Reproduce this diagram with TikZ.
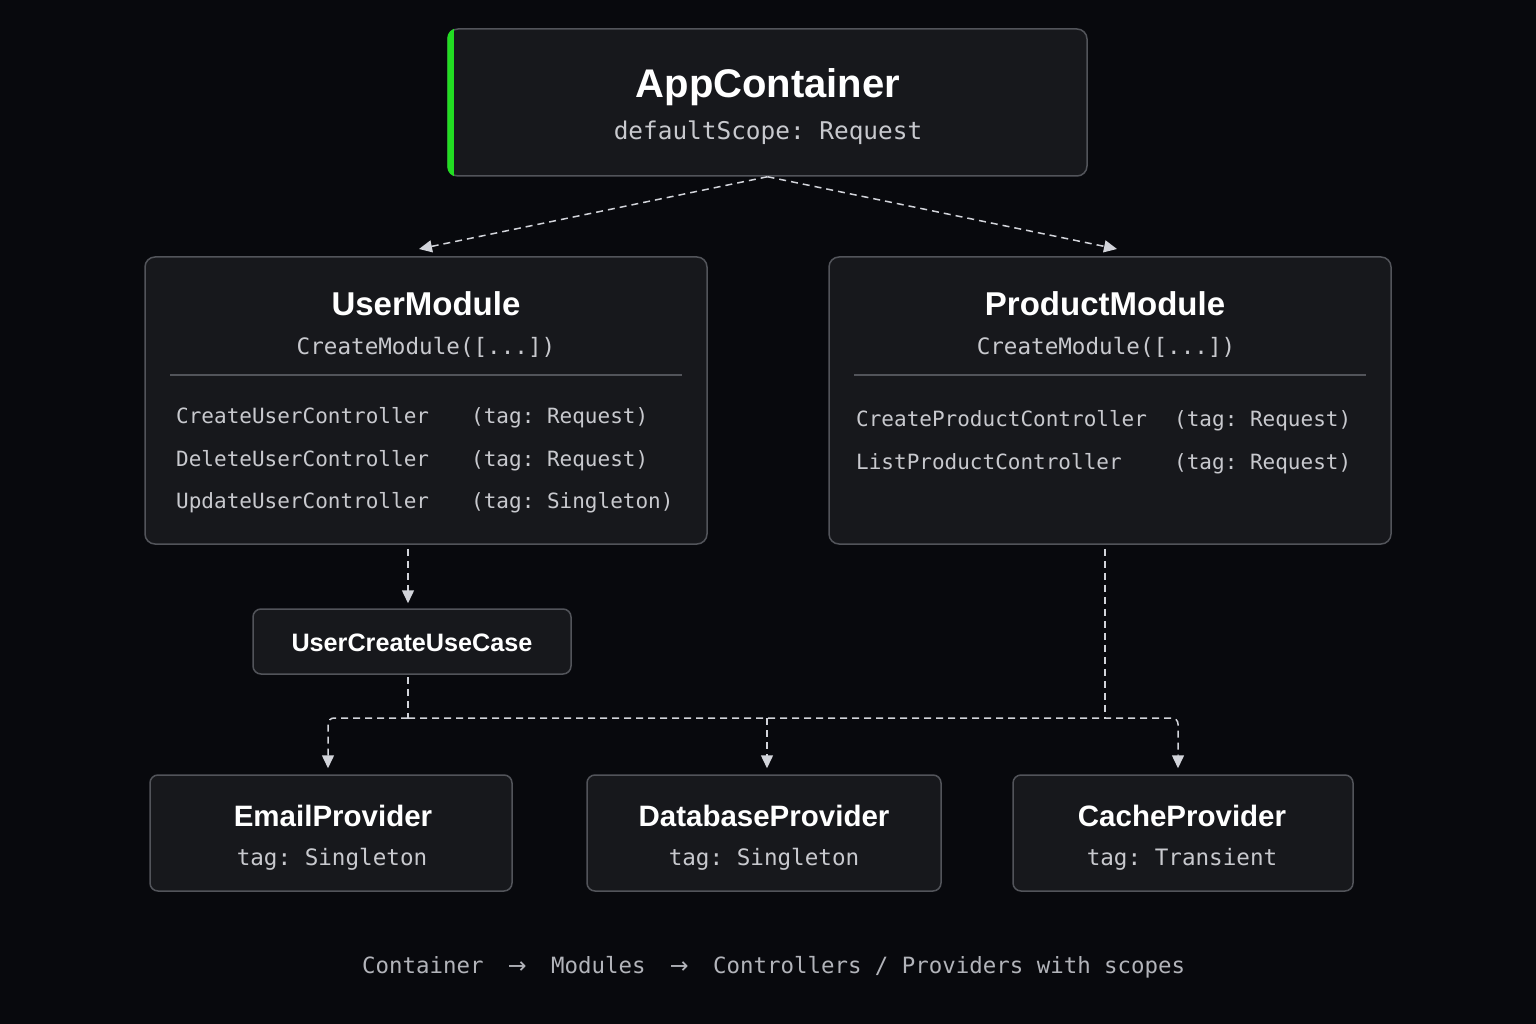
\documentclass[tikz,border=0pt]{standalone}
\usepackage{fontspec}
\setsansfont{Liberation Sans}
\setmonofont{DejaVu Sans Mono}
\newfontfamily\arrowfont{DejaVu Sans}
\usetikzlibrary{arrows.meta}
\definecolor{bgdark}{RGB}{8, 9, 13}
\definecolor{boxfill}{RGB}{23, 24, 28}
\definecolor{boxline}{RGB}{82, 84, 90}
\definecolor{subgray}{RGB}{200, 201, 206}
\definecolor{footgray}{RGB}{178, 180, 186}
\definecolor{linkgray}{RGB}{210, 212, 218}
\definecolor{accentgreen}{RGB}{34, 221, 34}

\begin{document}
\begin{tikzpicture}[x=1pt, y=-1pt,
        every node/.style={inner sep=0pt},
        box/.style={draw=boxline, fill=boxfill, line width=1.5pt, rounded corners=10pt},
        bigtitle/.style={anchor=base, text=white, font=\sffamily\bfseries\fontsize{40}{44}\selectfont},
        modtitle/.style={anchor=base, text=white, font=\sffamily\bfseries\fontsize{33}{36}\selectfont},
        provtitle/.style={anchor=base, text=white, font=\sffamily\bfseries\fontsize{29.5}{32}\selectfont},
        casetitle/.style={anchor=base, text=white, font=\sffamily\bfseries\fontsize{25.2}{28}\selectfont},
        monosub/.style={anchor=base, text=subgray, font=\ttfamily\fontsize{22.6}{26}\selectfont},
        rowtext/.style={anchor=base west, text=subgray, font=\ttfamily\fontsize{21}{24}\selectfont},
        sepline/.style={draw=boxline, line width=1.5pt},
        dep/.style={draw=linkgray, line width=1.5pt, dash pattern=on 7pt off 5pt},
        deparrow/.style={dep, -{Triangle[length=13pt, width=12pt, fill=linkgray]}}
      ]
        \fill[bgdark] (0,0) rectangle (1536,1024);
        \useasboundingbox (0,0) rectangle (1536,1024);

        \node[box, minimum width=639pt, minimum height=147pt] (app) at (767.5,102.5) {};
        \begin{scope}
          \clip[rounded corners=10pt] (app.north west) rectangle (app.south east);
          \fill[accentgreen] (app.north west) rectangle ([xshift=7pt]app.south west);
        \end{scope}
        \node[bigtitle] (apptitle) at (768,98) {AppContainer};
        \node[monosub, font=\ttfamily\fontsize{24.4}{28}\selectfont] (appscope) at (768,140) {defaultScope: Request};

        \node[box, minimum width=562pt, minimum height=287pt] (user) at (426,400.5) {};
        \node[modtitle] (usertitle) at (426,315) {UserModule};
        \node[monosub] (usersub) at (426,354) {CreateModule([...])};
        \draw[sepline] ([xshift=26pt]user.west |- 0,375) -- ([xshift=-26pt]user.east |- 0,375);
        \node[rowtext] (ucreate) at (176,423) {CreateUserController};
        \node[rowtext] (ucreatetag) at (471,423) {(tag: Request)};
        \node[rowtext] (udelete) at (176,466) {DeleteUserController};
        \node[rowtext] (udeletetag) at (471,466) {(tag: Request)};
        \node[rowtext] (uupdate) at (176,508.5) {UpdateUserController};
        \node[rowtext] (uupdatetag) at (471,508.5) {(tag: Singleton)};

        \node[box, minimum width=562pt, minimum height=287pt] (prod) at (1110,400.5) {};
        \node[modtitle] (prodtitle) at (1105,315) {ProductModule};
        \node[monosub] (prodsub) at (1106,354) {CreateModule([...])};
        \draw[sepline] ([xshift=26pt]prod.west |- 0,375) -- ([xshift=-26pt]prod.east |- 0,375);
        \node[rowtext] (pcreate) at (856,426) {CreateProductController};
        \node[rowtext] (pcreatetag) at (1174,426) {(tag: Request)};
        \node[rowtext] (plist) at (856,469) {ListProductController};
        \node[rowtext] (plisttag) at (1174,469) {(tag: Request)};

        \node[box, rounded corners=8pt, minimum width=318pt, minimum height=65pt] (ucase) at (412,641.5) {};
        \node[casetitle] (ucasetitle) at (412,651) {UserCreateUseCase};

        \node[box, rounded corners=8pt, minimum width=362pt, minimum height=116pt] (email) at (331,833) {};
        \node[provtitle] (emailtitle) at (333,826) {EmailProvider};
        \node[monosub] (emailtag) at (332,865) {tag: Singleton};
        \node[box, rounded corners=8pt, minimum width=354pt, minimum height=116pt] (dbase) at (764,833) {};
        \node[provtitle] (dbasetitle) at (764,826) {DatabaseProvider};
        \node[monosub] (dbasetag) at (764,865) {tag: Singleton};
        \node[box, rounded corners=8pt, minimum width=340pt, minimum height=116pt] (cache) at (1183,833) {};
        \node[provtitle] (cachetitle) at (1182,826) {CacheProvider};
        \node[monosub] (cachetag) at (1182,865) {tag: Transient};

        \node[anchor=base west, text=footgray, font=\ttfamily\fontsize{22.4}{28}\selectfont] (legend) at (362,973)
          {Container\makebox[67.6pt]{\arrowfont →}Modules\makebox[67.6pt]{\arrowfont →}Controllers / Providers with scopes};

        \coordinate (userin) at (419,249);
        \coordinate (prodin) at (1117,249);
        \coordinate (bus) at (0,718);
        \draw[deparrow] (app.south) -- (userin);
        \draw[deparrow] (app.south) -- (prodin);
        \draw[deparrow, shorten <=4pt, shorten >=5pt] ([xshift=-4pt]user.south -| ucase.north) -- ([xshift=-4pt]ucase.north);
        \draw[dep, shorten <=2pt] ([xshift=-4pt]ucase.south) -- ([xshift=-4pt]ucase.south |- bus);
        \draw[deparrow, rounded corners=6pt, shorten >=6pt] ([xshift=-4pt]ucase.south |- bus) -| ([xshift=-3pt]email.north);
        \draw[deparrow, rounded corners=6pt, shorten >=6pt] ([xshift=-4pt]ucase.south |- bus) -| ([xshift=-5pt]cache.north);
        \draw[dep, shorten <=4pt] ([xshift=-5pt]prod.south) -- ([xshift=-5pt]prod.south |- bus);
        \draw[deparrow, shorten >=6pt] ([xshift=3pt]dbase.north |- bus) -- ([xshift=3pt]dbase.north);
      \end{tikzpicture}
\end{document}
